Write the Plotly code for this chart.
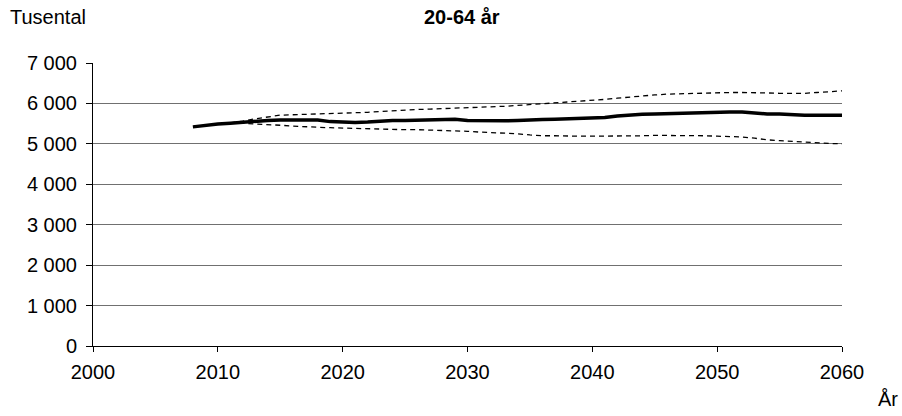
import plotly.graph_objects as go

# Befolkning 20-64 år, tusental: hovedalternativ og høy/lav variant
years_main = list(range(2008, 2061))
main = [
    5420, 5460, 5490, 5510, 5540, 5560, 5580, 5590, 5590, 5590,
    5590, 5550, 5530, 5530, 5540, 5570, 5580, 5580, 5590, 5610,
    5610, 5610, 5580, 5570, 5570, 5570, 5580, 5600, 5600, 5610,
    5620, 5630, 5640, 5650, 5690, 5720, 5730, 5740, 5750, 5760,
    5780, 5790, 5790, 5790, 5790, 5760, 5740, 5740, 5720, 5710,
    5710, 5710, 5710,
]

years_var = list(range(2011, 2061))
high = [
    5520, 5560, 5620, 5670, 5710, 5720, 5730, 5740, 5740, 5750,
    5760, 5780, 5800, 5820, 5830, 5850, 5860, 5870, 5880, 5890,
    5900, 5910, 5930, 5950, 5970, 5990, 6010, 6030, 6050, 6070,
    6100, 6130, 6160, 6190, 6210, 6230, 6240, 6250, 6260, 6270,
    6270, 6270, 6270, 6260, 6250, 6250, 6250, 6270, 6290, 6310,
]
low = [
    5510, 5510, 5490, 5480, 5460, 5440, 5420, 5410, 5400, 5390,
    5380, 5370, 5360, 5360, 5350, 5350, 5340, 5340, 5330, 5310,
    5290, 5280, 5270, 5250, 5220, 5200, 5200, 5190, 5190, 5190,
    5190, 5190, 5190, 5200, 5210, 5210, 5210, 5200, 5200, 5190,
    5180, 5170, 5140, 5100, 5080, 5060, 5040, 5020, 5010, 5000,
]

y_ticks = [0, 1000, 2000, 3000, 4000, 5000, 6000, 7000]
y_tick_text = ["0", "1 000", "2 000", "3 000", "4 000", "5 000", "6 000", "7 000"]
x_ticks = [2000, 2010, 2020, 2030, 2040, 2050, 2060]

FONT = "Liberation Sans, Arial, sans-serif"
W, H = 902, 416
L, R, T, B = 93, 60, 63, 70
PW, PH = W - L - R, H - T - B


def px_to_paper(x, y):
    """Convert page pixel position to paper coordinates."""
    return (x - L) / PW, (H - B - y) / PH


fig = go.Figure()
fig.add_trace(go.Scatter(x=years_var, y=high, mode="lines",
                         line=dict(color="black", width=1.3, dash="5px,4px")))
fig.add_trace(go.Scatter(x=years_var, y=low, mode="lines",
                         line=dict(color="black", width=1.3, dash="5px,4px")))
fig.add_trace(go.Scatter(x=years_main, y=main, mode="lines",
                         line=dict(color="black", width=3.5)))

labels = [
    ("Tusental", 8, 17, "left", False),
    ("20-64 år", 462, 17, "center", True),
    ("År", 888, 399, "center", False),
]
annotations = []
for text, x, y, anchor, bold in labels:
    ax, ay = px_to_paper(x, y)
    annotations.append(dict(
        text=f"<b>{text}</b>" if bold else text,
        x=ax, y=ay, xref="paper", yref="paper",
        xanchor=anchor, yanchor="middle", showarrow=False,
    ))

fig.update_layout(
    width=W, height=H,
    margin=dict(l=L, r=R, t=T, b=B),
    paper_bgcolor="white", plot_bgcolor="white",
    showlegend=False,
    font=dict(family=FONT, size=20, color="black"),
    xaxis=dict(range=[2000, 2060], tickvals=x_ticks, showgrid=False,
               showline=True, linecolor="black", linewidth=1,
               ticks="outside", ticklen=5, tickcolor="black",
               ticklabelstandoff=3,
               zeroline=False, fixedrange=True),
    yaxis=dict(range=[0, 7000], tickvals=y_ticks, ticktext=y_tick_text,
               showgrid=True, gridcolor="#707070", gridwidth=1,
               showline=True, linecolor="black", linewidth=1,
               ticks="outside", ticklen=6, tickcolor="black",
               ticklabelstandoff=5,
               zeroline=False, fixedrange=True),
    annotations=annotations,
)

fig.write_html("out.html", config={"displayModeBar": False})
